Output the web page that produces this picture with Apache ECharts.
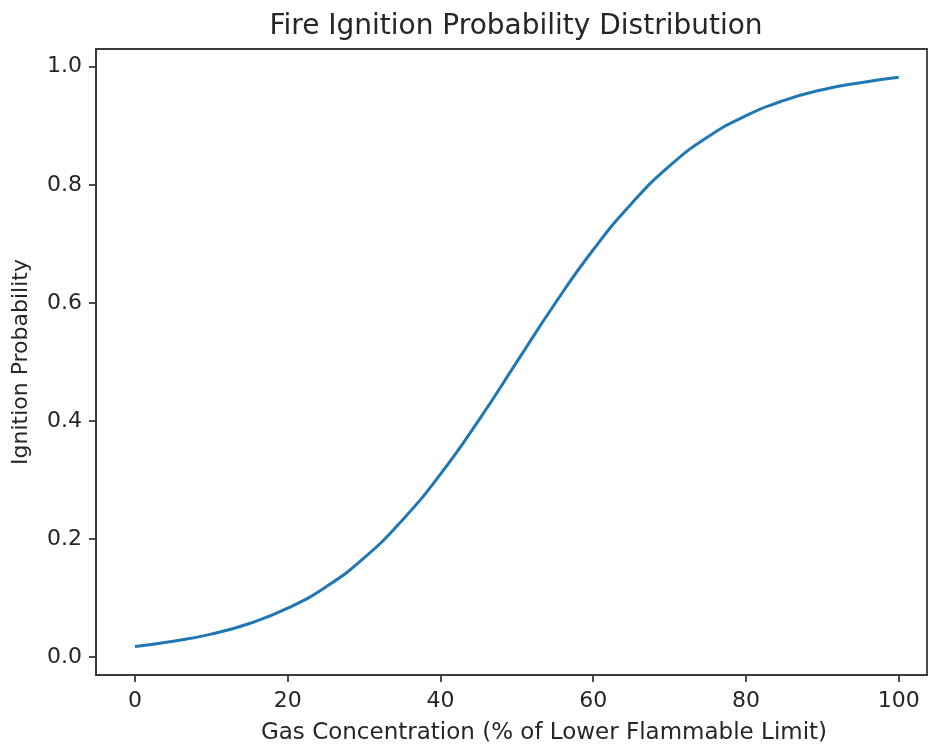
<!DOCTYPE html>
<html>
<head>
<meta charset="utf-8">
<script src="https://cdn.jsdelivr.net/npm/echarts@6/dist/echarts.min.js"></script>
<style>
html,body{margin:0;padding:0;background:#fff;}
#chart{width:929px;height:746px;}
</style>
</head>
<body>
<div id="chart"></div>
<script>
const title = 'Fire Ignition Probability Distribution';
const xLabel = 'Gas Concentration (% of Lower Flammable Limit)';
const yLabel = 'Ignition Probability';
const concentration = [0,5,10,15,20,25,30,35,40,45,50,55,60,65,70,75,80,85,90,95,100];
const probability = [0.018,0.027,0.039,0.057,0.083,0.119,0.168,0.232,0.310,0.401,0.500,0.599,0.690,0.768,0.832,0.881,0.917,0.943,0.961,0.973,0.982];
const xTicks = [0,20,40,60,80,100];
const yTicks = [0.0,0.2,0.4,0.6,0.8,1.0];

const data = concentration.map((x,i)=>[x, probability[i]]);
const chart = echarts.init(document.getElementById('chart'), null, {renderer:'canvas'});
const textColor = '#262626';
const axisColor = '#3a3a3a';
const font = 'DejaVu Sans';
chart.setOption({
  animation:false,
  backgroundColor:'#fff',
  title:[
    {text:title, left:516, top:13, padding:0, textAlign:'center',
      textStyle:{fontFamily:font, fontSize:28, fontWeight:'normal', color:textColor}},
    {text:xLabel, left:544, top:722, padding:0, textAlign:'center',
      textStyle:{fontFamily:font, fontSize:23, fontWeight:'normal', color:textColor}}
  ],
  grid:{left:96, right:2, top:49, bottom:71, show:true, borderColor:axisColor, borderWidth:1.8, backgroundColor:'transparent'},
  xAxis:{type:'value', min:-5.1, max:103.7,
    axisLine:{show:true, onZero:false, lineStyle:{color:axisColor, width:1.8}},
    axisTick:{show:true, length:7, customValues:xTicks, lineStyle:{color:axisColor, width:1.8}},
    axisLabel:{customValues:xTicks, margin:15, fontFamily:font, fontSize:22, color:textColor},
    splitLine:{show:false}},
  yAxis:{type:'value', min:-0.0302, max:1.030,
    name:yLabel, nameLocation:'middle', nameGap:64,
    nameTextStyle:{fontFamily:font, fontSize:22, color:textColor},
    axisLine:{show:true, onZero:false, lineStyle:{color:axisColor, width:1.8}},
    axisTick:{show:true, length:7, customValues:yTicks, lineStyle:{color:axisColor, width:1.8}},
    axisLabel:{customValues:yTicks, margin:14, fontFamily:font, fontSize:22, color:textColor,
      formatter:v=>Number(v).toFixed(1)},
    splitLine:{show:false}},
  series:[{type:'line', data:data, smooth:true, showSymbol:false,
    lineStyle:{color:'#1f77b4', width:3}}]
});
</script>
</body>
</html>
